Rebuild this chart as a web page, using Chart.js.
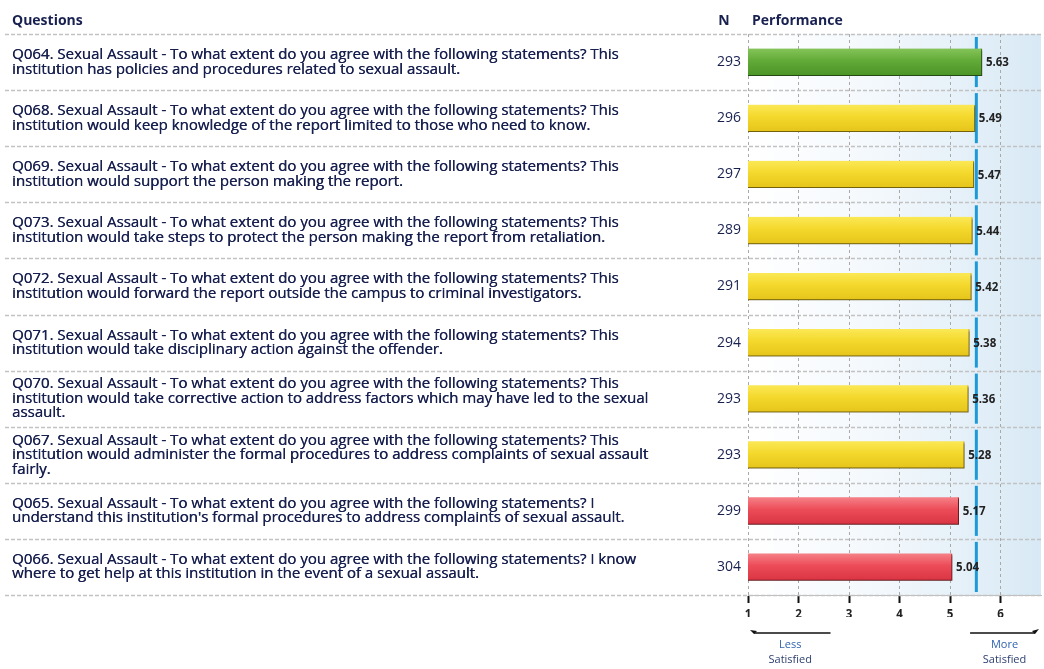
<!DOCTYPE html>
<html>
<head>
<meta charset="utf-8">
<title>Sexual Assault - Performance</title>
<script src="https://cdn.jsdelivr.net/npm/chart.js@4.4.1/dist/chart.umd.min.js"></script>
<style>
  html, body { margin: 0; padding: 0; background: #fff; }
  #wrap { width: 1044px; height: 669px; position: relative; }
</style>
</head>
<body>
<div id="wrap"><canvas id="perfChart" width="1044" height="669"></canvas></div>
<script>
// data
const questionIds = ['Q064', 'Q068', 'Q069', 'Q073', 'Q072', 'Q071', 'Q070', 'Q067', 'Q065', 'Q066'];
const questionLines = [
    ['Q064. Sexual Assault - To what extent do you agree with the following statements? This', 'institution has policies and procedures related to sexual assault.'],
    ['Q068. Sexual Assault - To what extent do you agree with the following statements? This', 'institution would keep knowledge of the report limited to those who need to know.'],
    ['Q069. Sexual Assault - To what extent do you agree with the following statements? This', 'institution would support the person making the report.'],
    ['Q073. Sexual Assault - To what extent do you agree with the following statements? This', 'institution would take steps to protect the person making the report from retaliation.'],
    ['Q072. Sexual Assault - To what extent do you agree with the following statements? This', 'institution would forward the report outside the campus to criminal investigators.'],
    ['Q071. Sexual Assault - To what extent do you agree with the following statements? This', 'institution would take disciplinary action against the offender.'],
    ['Q070. Sexual Assault - To what extent do you agree with the following statements? This', 'institution would take corrective action to address factors which may have led to the sexual', 'assault.'],
    ['Q067. Sexual Assault - To what extent do you agree with the following statements? This', 'institution would administer the formal procedures to address complaints of sexual assault', 'fairly.'],
    ['Q065. Sexual Assault - To what extent do you agree with the following statements? I', 'understand this institution\'s formal procedures to address complaints of sexual assault.'],
    ['Q066. Sexual Assault - To what extent do you agree with the following statements? I know', 'where to get help at this institution in the event of a sexual assault.']
];
const nCounts = [293, 296, 297, 289, 291, 294, 293, 293, 299, 304];
const scores = [5.63, 5.49, 5.47, 5.44, 5.42, 5.38, 5.36, 5.28, 5.17, 5.04];
const bands = ['high', 'mid', 'mid', 'mid', 'mid', 'mid', 'mid', 'mid', 'low', 'low'];
const tickValues = [1, 2, 3, 4, 5, 6];
const benchmark = 5.52;
const headers = ['Questions', 'N', 'Performance'];
const scaleEnds = [['Less', 'Satisfied'], ['More', 'Satisfied']];

// 颜色
const bandColors = {
    high: { top: '#86c55a', mid: '#62ab38', bottom: '#4a9326', edge: '#3f7f20' },
    mid: { top: '#fbe957', mid: '#f4d82c', bottom: '#e5c41a', edge: '#c9a813' },
    low: { top: '#f6838a', mid: '#ec4c58', bottom: '#d93342', edge: '#b9282f' }
};
const textColor = '#18204f';
let textFont = '14px "Open Sans"';

function barFill(ctx) {
    const chart = ctx.chart;
    const c = bandColors[bands[ctx.dataIndex]];
    if (!chart.chartArea || !chart.scales.y) return c.mid;
    const yc = chart.scales.y.getPixelForValue(ctx.dataIndex);
    const g = chart.ctx.createLinearGradient(0, yc - 14, 0, yc + 14);
    g.addColorStop(0, c.top);
    g.addColorStop(0.45, c.mid);
    g.addColorStop(1, c.bottom);
    return g;
}

// 背景、行分隔线、基准线
const tablePlugin = {
    id: 'tablePlugin',
    beforeDraw(chart) {
        const { ctx, chartArea: a } = chart;
        ctx.save();
        const g = ctx.createLinearGradient(a.left, 0, a.right, 0);
        g.addColorStop(0, '#ffffff');
        g.addColorStop(0.45, '#f3f8fc');
        g.addColorStop(1, '#d8e9f5');
        ctx.fillStyle = g;
        ctx.fillRect(a.left, a.top, a.right - a.left, a.bottom - a.top);
        ctx.restore();
    },
    beforeDatasetsDraw(chart) {
        const { ctx, chartArea: a, scales: { x, y } } = chart;
        const rowH = (a.bottom - a.top) / questionIds.length;
        ctx.save();
        // row separators
        ctx.strokeStyle = '#c2c2c2';
        ctx.lineWidth = 1.5;
        ctx.setLineDash([4, 2]);
        for (let i = 0; i <= questionIds.length; i++) {
            const yy = Math.round(a.top + i * rowH) + 0.5;
            ctx.beginPath();
            ctx.moveTo(5, yy);
            ctx.lineTo(a.right, yy);
            ctx.stroke();
        }
        ctx.setLineDash([]);
        // benchmark line
        const bx = x.getPixelForValue(benchmark);
        ctx.strokeStyle = '#1b9ad7';
        ctx.lineWidth = 3;
        for (let i = 0; i < questionIds.length; i++) {
            ctx.beginPath();
            ctx.moveTo(bx, a.top + i * rowH + 3);
            ctx.lineTo(bx, a.top + (i + 1) * rowH - 3);
            ctx.stroke();
        }
        ctx.restore();
        // shadow under bars
        ctx.save();
        ctx.shadowColor = 'rgba(0,0,0,0.45)';
        ctx.shadowOffsetX = 2;
        ctx.shadowOffsetY = 2;
        ctx.shadowBlur = 2;
    },
    afterDatasetsDraw(chart) {
        const { ctx, chartArea: a, scales: { x, y } } = chart;
        ctx.restore();
        ctx.save();
        // fit the question font to the reference column width
        ctx.font = '14px "Open Sans"';
        const w = ctx.measureText(questionLines[0][0]).width;
        const size = Math.max(12, Math.min(15, 14 * 629 / w));
        textFont = size.toFixed(2) + 'px "Open Sans"';

        // headers
        ctx.fillStyle = textColor;
        ctx.textBaseline = 'middle';
        ctx.font = 'bold 14px "Open Sans"';
        ctx.textAlign = 'left';
        ctx.fillText(headers[0], 12, 21);
        ctx.textAlign = 'center';
        ctx.fillText(headers[1], 724, 21);
        ctx.textAlign = 'left';
        ctx.fillText(headers[2], 752, 21);

        const lineH = 14.5;
        questionIds.forEach((id, i) => {
            const yc = y.getPixelForValue(i);
            const lines = questionLines[i];
            ctx.font = textFont;
            ctx.textAlign = 'left';
            ctx.fillStyle = textColor;
            lines.forEach((t, j) => {
                const ty = yc + (j - (lines.length - 1) / 2) * lineH;
                ctx.fillText(t, 12, ty);
                ctx.fillText(t, 12.35, ty);
            });
            // N
            ctx.font = '14px "Open Sans"';
            ctx.textAlign = 'right';
            ctx.fillText(String(nCounts[i]), 741, yc);
            // value label
            ctx.font = 'bold 11.5px "Open Sans"';
            ctx.textAlign = 'left';
            ctx.fillStyle = '#222';
            ctx.fillText(scores[i].toFixed(2), x.getPixelForValue(scores[i]) + 4, yc + 1);
        });

        // less / more satisfied
        const x1 = x.getPixelForValue(tickValues[0]);
        const x2 = x.getPixelForValue(tickValues[1]);
        const xr = a.right - 2;
        const ay = 633;
        ctx.strokeStyle = '#111';
        ctx.fillStyle = '#111';
        ctx.lineWidth = 1.5;
        ctx.beginPath();
        ctx.moveTo(x1 + 6, ay); ctx.lineTo(x2 + 32, ay);
        ctx.moveTo(x.getPixelForValue(tickValues[4]) + 20, ay); ctx.lineTo(xr - 4, ay);
        ctx.stroke();
        ctx.beginPath();
        ctx.moveTo(x1 + 2, ay - 3); ctx.lineTo(x1 + 9, ay - 2); ctx.lineTo(x1 + 6, ay + 1); ctx.closePath();
        ctx.fill();
        ctx.beginPath();
        ctx.moveTo(xr, ay - 4); ctx.lineTo(xr - 7, ay - 2); ctx.lineTo(xr - 4, ay + 1); ctx.closePath();
        ctx.fill();

        ctx.font = '11px "Open Sans"';
        ctx.textAlign = 'center';
        const lx = (x1 + x2 + 34) / 2;
        const rx = (x.getPixelForValue(tickValues[4]) + 20 + xr) / 2;
        ctx.fillStyle = '#2f63b0';
        ctx.fillText(scaleEnds[0][0], lx, 645);
        ctx.fillText(scaleEnds[1][0], rx, 645);
        ctx.fillStyle = '#2d3f70';
        ctx.fillText(scaleEnds[0][1], lx, 660);
        ctx.fillText(scaleEnds[1][1], rx, 660);
        ctx.restore();
    }
};

new Chart(document.getElementById('perfChart'), {
    type: 'bar',
    data: {
        labels: questionIds,
        datasets: [{
            label: 'Performance',
            data: scores,
            backgroundColor: barFill,
            borderColor: (ctx) => bandColors[bands[ctx.dataIndex]].edge,
            borderWidth: { top: 0, bottom: 1, right: 1, left: 0 },
            borderSkipped: false,
            barThickness: 27
        }]
    },
    options: {
        indexAxis: 'y',
        responsive: false,
        animation: false,
        layout: { padding: { left: 748, right: 3, top: 34, bottom: 52 } },
        plugins: {
            legend: { display: false },
            tooltip: { enabled: false }
        },
        scales: {
            x: {
                min: tickValues[0],
                max: 6.8,
                afterBuildTicks: (s) => { s.ticks = tickValues.map(v => ({ value: v })); },
                afterFit: (s) => { s.height = 22; },
                grid: {
                    color: '#a9a9a9',
                    tickColor: '#111',
                    tickWidth: 2,
                    tickLength: 8,
                    drawTicks: true
                },
                border: { display: true, color: '#bdbdbd', dash: [3, 3] },
                ticks: {
                    color: '#222',
                    font: { family: 'Open Sans', size: 11.5, weight: 'bold' },
                    padding: 5
                }
            },
            y: {
                display: false,
                grid: { display: false }
            }
        }
    },
    plugins: [tablePlugin]
});
</script>
</body>
</html>
